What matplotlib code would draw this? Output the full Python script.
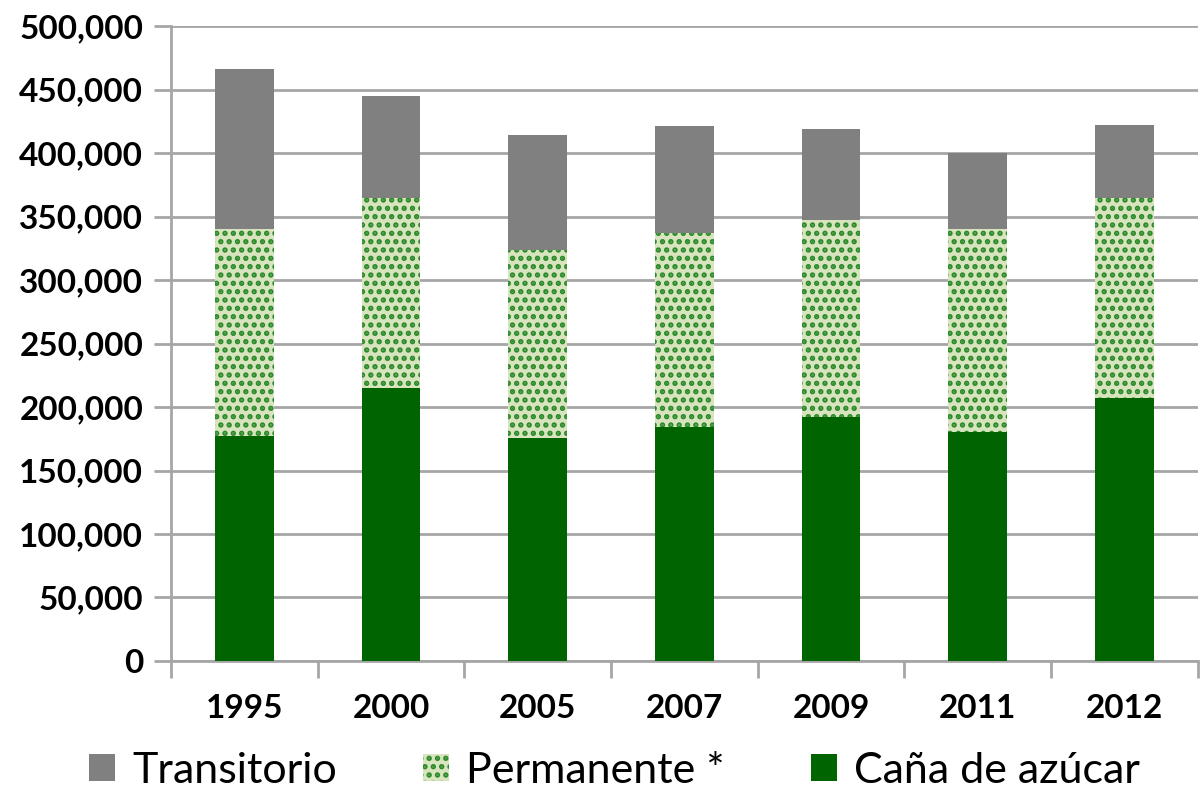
import matplotlib
matplotlib.use("Agg")
import matplotlib.pyplot as plt
import numpy as np

years = ["1995", "2000", "2005", "2007", "2009", "2011", "2012"]
cana = [177000, 215000, 176000, 184000, 192000, 180000, 207000]
permanente = [163000, 150000, 148000, 153000, 155000, 160000, 158000]
transitorio = [126000, 80000, 90000, 84000, 72000, 60000, 57000]

GRID = "#a6a6a6"
plt.rcParams["font.family"] = ["Lato", "DejaVu Sans"]
plt.rcParams["hatch.linewidth"] = 2.6

fig = plt.figure(figsize=(12, 7.93), dpi=100)
ax = fig.add_axes([0.1425, 0.1665, 0.8555, 0.8005])

x = np.arange(len(years))
w = 0.4
b1 = np.array(cana)
b2 = b1 + np.array(permanente)
ax.bar(x, cana, w, color="#006400", zorder=3, label="Caña de azúcar")
ax.bar(x, permanente, w, bottom=b1, facecolor="#d7e4bd", edgecolor="#2a8a2a",
       hatch="..", linewidth=0, zorder=3, label="Permanente *")
ax.bar(x, transitorio, w, bottom=b2, color="#808080", zorder=3, label="Transitorio")

ax.set_xlim(-0.5, len(years) - 0.5)
ax.set_ylim(0, 500000)
ax.set_yticks(np.arange(0, 500001, 50000))
ax.set_yticklabels([f"{v:,}" for v in range(0, 500001, 50000)],
                   fontsize=24, fontweight="bold")
ax.yaxis.grid(True, color=GRID, linewidth=2, zorder=0)
ax.set_axisbelow(True)

ax.set_xticks(x)
ax.set_xticklabels(years, fontsize=24, fontweight="bold")
ax.set_xticks(np.arange(-0.5, len(years)), minor=True)
ax.tick_params(axis="x", which="major", length=0, pad=24)
ax.tick_params(axis="x", which="minor", length=12, width=2, color=GRID)
ax.tick_params(axis="y", length=12, width=2, color=GRID, pad=8)

for s in ["top", "right"]:
    ax.spines[s].set_visible(False)
for s in ["left", "bottom"]:
    ax.spines[s].set_color(GRID)
    ax.spines[s].set_linewidth(2)

h, l = ax.get_legend_handles_labels()
fig.legend(h[::-1], l[::-1], loc="lower center", bbox_to_anchor=(0.512, -0.045),
           ncol=3, frameon=False, fontsize=31, handlelength=0.6, handleheight=0.6,
           handletextpad=0.4, columnspacing=2.0)

fig.savefig("out.png", dpi=100)
